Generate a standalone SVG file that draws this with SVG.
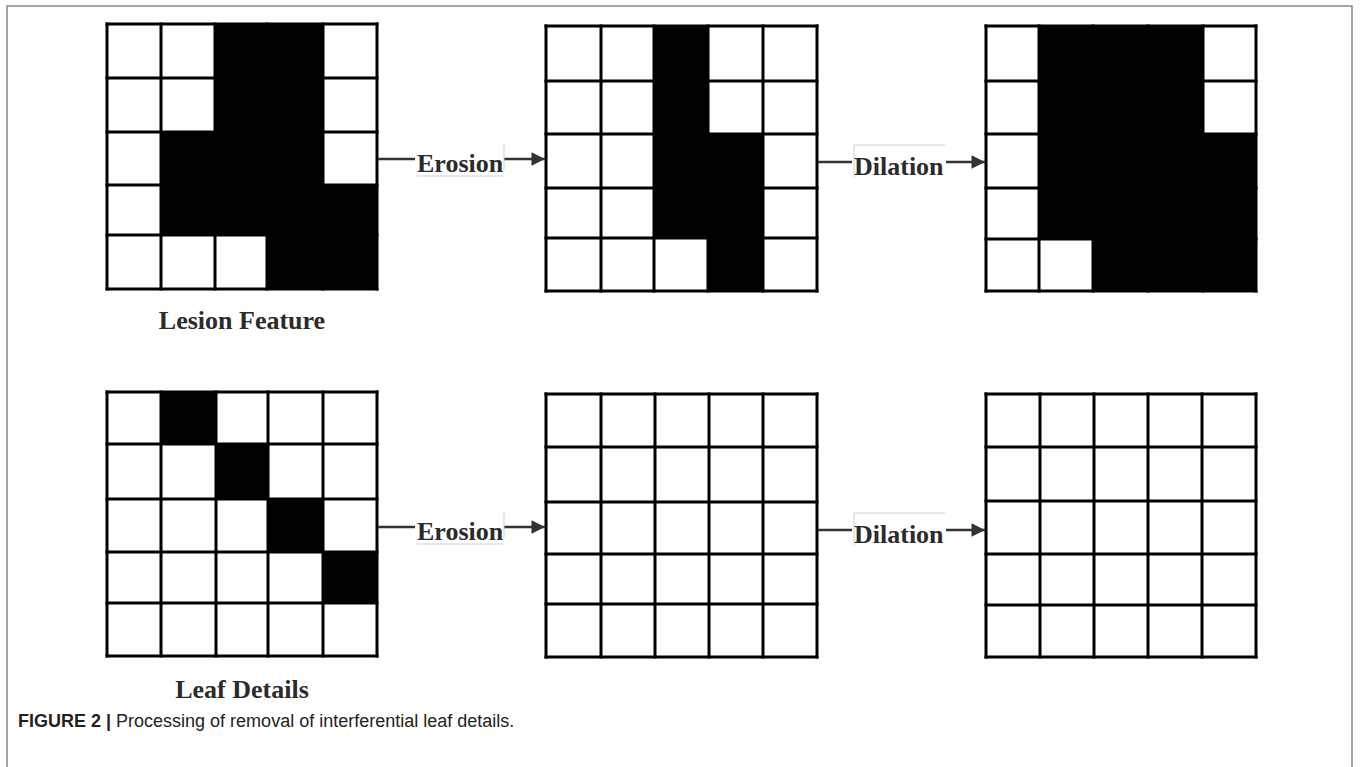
<svg xmlns="http://www.w3.org/2000/svg" width="1360" height="767" viewBox="0 0 1360 767">
<defs>
<style>
.grid line{stroke:#000;stroke-width:3;stroke-linecap:square}
.blk{fill:#000}
.cell{fill:#fff}
.lbl{font-family:"Liberation Serif","Times New Roman",serif;font-weight:bold;font-size:26px;fill:#2b2b2b}
.conn{stroke:#333;stroke-width:2.5;fill:none}
.ghost{stroke:#cfcfcf;stroke-width:1;fill:none}
.cap{font-family:"Liberation Sans",Arial,sans-serif;font-size:18px;fill:#222}
</style>
<marker id="ah" viewBox="0 0 10 10" refX="10" refY="5" markerWidth="7" markerHeight="5.4" markerUnits="strokeWidth" orient="auto">
<path d="M0,0 L10,5 L0,10 Z" fill="#333"/>
</marker>
</defs>
<rect width="1360" height="767" fill="#fff"/>
<path d="M7,767 V6 H1352 V767" fill="none" stroke="#888" stroke-width="1.5"/>

<g id="grid-lesion" class="grid">
<rect class="cell" x="107" y="24" width="270" height="265"/>
<path class="blk" d="M215,24 H323 V185 H377 V289 H267 V235 H161 V132 H215 Z"/>
<line x1="107" y1="24" x2="377" y2="24"/><line x1="107" y1="78" x2="377" y2="78"/><line x1="107" y1="132" x2="377" y2="132"/><line x1="107" y1="185" x2="377" y2="185"/><line x1="107" y1="235" x2="377" y2="235"/><line x1="107" y1="289" x2="377" y2="289"/>
<line x1="107" y1="24" x2="107" y2="289"/><line x1="161" y1="24" x2="161" y2="289"/><line x1="215" y1="24" x2="215" y2="289"/><line x1="267" y1="24" x2="267" y2="289"/><line x1="323" y1="24" x2="323" y2="289"/><line x1="377" y1="24" x2="377" y2="289"/>
</g>

<g id="grid-lesion-eroded" class="grid">
<rect class="cell" x="546" y="26" width="271" height="265"/>
<path class="blk" d="M654,26 H708 V134 H763 V291 H708 V238 H654 Z"/>
<line x1="546" y1="26" x2="817" y2="26"/><line x1="546" y1="81" x2="817" y2="81"/><line x1="546" y1="134" x2="817" y2="134"/><line x1="546" y1="188" x2="817" y2="188"/><line x1="546" y1="238" x2="817" y2="238"/><line x1="546" y1="291" x2="817" y2="291"/>
<line x1="546" y1="26" x2="546" y2="291"/><line x1="601" y1="26" x2="601" y2="291"/><line x1="654" y1="26" x2="654" y2="291"/><line x1="708" y1="26" x2="708" y2="291"/><line x1="763" y1="26" x2="763" y2="291"/><line x1="817" y1="26" x2="817" y2="291"/>
</g>

<g id="grid-lesion-dilated" class="grid">
<rect class="cell" x="986" y="26" width="270" height="265"/>
<path class="blk" d="M1039,26 H1203 V134 H1256 V291 H1093 V239 H1039 Z"/>
<line x1="986" y1="26" x2="1256" y2="26"/><line x1="986" y1="81" x2="1256" y2="81"/><line x1="986" y1="134" x2="1256" y2="134"/><line x1="986" y1="188" x2="1256" y2="188"/><line x1="986" y1="239" x2="1256" y2="239"/><line x1="986" y1="291" x2="1256" y2="291"/>
<line x1="986" y1="26" x2="986" y2="291"/><line x1="1039" y1="26" x2="1039" y2="291"/><line x1="1093" y1="26" x2="1093" y2="291"/><line x1="1148" y1="26" x2="1148" y2="291"/><line x1="1203" y1="26" x2="1203" y2="291"/><line x1="1256" y1="26" x2="1256" y2="291"/>
</g>

<g id="grid-leaf" class="grid">
<rect class="cell" x="107" y="392" width="270" height="264"/>
<rect class="blk" x="161" y="392" width="55" height="52"/>
<rect class="blk" x="216" y="444" width="52" height="55"/>
<rect class="blk" x="268" y="499" width="55" height="53"/>
<rect class="blk" x="323" y="552" width="54" height="51"/>
<line x1="107" y1="392" x2="377" y2="392"/><line x1="107" y1="444" x2="377" y2="444"/><line x1="107" y1="499" x2="377" y2="499"/><line x1="107" y1="552" x2="377" y2="552"/><line x1="107" y1="603" x2="377" y2="603"/><line x1="107" y1="656" x2="377" y2="656"/>
<line x1="107" y1="392" x2="107" y2="656"/><line x1="161" y1="392" x2="161" y2="656"/><line x1="216" y1="392" x2="216" y2="656"/><line x1="268" y1="392" x2="268" y2="656"/><line x1="323" y1="392" x2="323" y2="656"/><line x1="377" y1="392" x2="377" y2="656"/>
</g>

<g id="grid-leaf-eroded" class="grid">
<rect class="cell" x="546" y="394" width="271" height="263"/>
<line x1="546" y1="394" x2="817" y2="394"/><line x1="546" y1="447" x2="817" y2="447"/><line x1="546" y1="502" x2="817" y2="502"/><line x1="546" y1="554" x2="817" y2="554"/><line x1="546" y1="604" x2="817" y2="604"/><line x1="546" y1="657" x2="817" y2="657"/>
<line x1="546" y1="394" x2="546" y2="657"/><line x1="601" y1="394" x2="601" y2="657"/><line x1="655" y1="394" x2="655" y2="657"/><line x1="709" y1="394" x2="709" y2="657"/><line x1="763" y1="394" x2="763" y2="657"/><line x1="817" y1="394" x2="817" y2="657"/>
</g>

<g id="grid-leaf-dilated" class="grid">
<rect class="cell" x="986" y="394" width="270" height="263"/>
<line x1="986" y1="394" x2="1256" y2="394"/><line x1="986" y1="447" x2="1256" y2="447"/><line x1="986" y1="501" x2="1256" y2="501"/><line x1="986" y1="554" x2="1256" y2="554"/><line x1="986" y1="605" x2="1256" y2="605"/><line x1="986" y1="657" x2="1256" y2="657"/>
<line x1="986" y1="394" x2="986" y2="657"/><line x1="1040" y1="394" x2="1040" y2="657"/><line x1="1094" y1="394" x2="1094" y2="657"/><line x1="1148" y1="394" x2="1148" y2="657"/><line x1="1202" y1="394" x2="1202" y2="657"/><line x1="1256" y1="394" x2="1256" y2="657"/>
</g>

<g id="connectors">
<line class="conn" x1="378" y1="159" x2="415" y2="159"/>
<line class="conn" x1="504" y1="159" x2="545" y2="159" marker-end="url(#ah)"/>
<line class="conn" x1="818" y1="162" x2="852" y2="162"/>
<line class="conn" x1="946" y1="162" x2="985" y2="162" marker-end="url(#ah)"/>
<line class="conn" x1="378" y1="527" x2="415" y2="527"/>
<line class="conn" x1="504" y1="527" x2="545" y2="527" marker-end="url(#ah)"/>
<line class="conn" x1="818" y1="530" x2="852" y2="530"/>
<line class="conn" x1="946" y1="530" x2="985" y2="530" marker-end="url(#ah)"/>
<path class="ghost" d="M504,143 V170 M417,176 H503"/>
<path class="ghost" d="M854,177 V145 H945"/>
<path class="ghost" d="M504,511 V538 M417,544 H503"/>
<path class="ghost" d="M854,545 V513 H945"/>
<text class="lbl" x="417" y="172">Erosion</text>
<text class="lbl" x="854" y="175">Dilation</text>
<text class="lbl" x="417" y="540">Erosion</text>
<text class="lbl" x="854" y="543">Dilation</text>
</g>

<g id="labels">
<text class="lbl" x="242" y="329" text-anchor="middle">Lesion Feature</text>
<text class="lbl" x="242" y="698" text-anchor="middle">Leaf Details</text>
</g>

<g id="caption">
<text class="cap" x="18" y="727"><tspan font-weight="bold">FIGURE 2 | </tspan>Processing of removal of interferential leaf details.</text>
</g>
</svg>
